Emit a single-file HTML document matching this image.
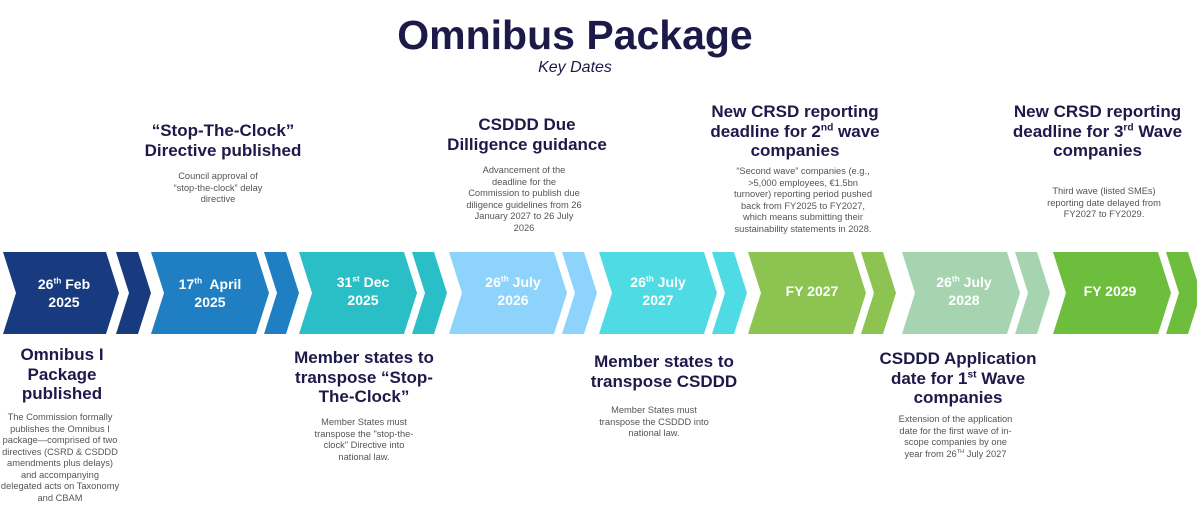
<!DOCTYPE html>
<html><head><meta charset="utf-8"><style>
body{margin:0;width:1197px;height:505px;background:#fff;position:relative;overflow:hidden;font-family:"Liberation Sans",sans-serif}
.a{position:absolute;text-align:center}
.h{font-weight:bold;color:#1d1a4a;font-size:17px;line-height:19.5px}
.b{color:#555;font-size:9.3px;line-height:11.5px}
sup{font-size:60%;line-height:0}
.d{position:absolute;color:#fff;font-weight:bold;font-size:14px;line-height:18px;text-align:center;width:110px}
</style></head><body>
<div class="a" style="left:300px;width:550px;top:10px;font-size:41px;font-weight:bold;color:#1d1a4a;line-height:50px">Omnibus Package</div>
<div class="a" style="left:450px;width:250px;top:59px;font-size:16px;font-style:italic;color:#1d1a4a">Key Dates</div>

<svg style="position:absolute;left:0;top:0" width="1197" height="505">
<polygon points="3,252 106,252 119,293 106,334 3,334 16,293" fill="#173b7e"/><polygon points="116,252 138,252 151,293 138,334 116,334 129,293" fill="#173b7e"/>
<polygon points="151,252 256,252 269,293 256,334 151,334 164,293" fill="#1f7fc2"/><polygon points="264,252 286,252 299,293 286,334 264,334 277,293" fill="#1f7fc2"/>
<polygon points="299,252 404,252 417,293 404,334 299,334 312,293" fill="#2abfc6"/><polygon points="412,252 434,252 447,293 434,334 412,334 425,293" fill="#2abfc6"/>
<polygon points="449,252 554,252 567,293 554,334 449,334 462,293" fill="#8ed3fb"/><polygon points="562,252 584,252 597,293 584,334 562,334 575,293" fill="#8ed3fb"/>
<polygon points="599,252 704,252 717,293 704,334 599,334 612,293" fill="#4fdbe3"/><polygon points="712,252 734,252 747,293 734,334 712,334 725,293" fill="#4fdbe3"/>
<polygon points="748,252 853,252 866,293 853,334 748,334 761,293" fill="#8dc451"/><polygon points="861,252 883,252 896,293 883,334 861,334 874,293" fill="#8dc451"/>
<polygon points="902,252 1007,252 1020,293 1007,334 902,334 915,293" fill="#a6d4b1"/><polygon points="1015,252 1037,252 1050,293 1037,334 1015,334 1028,293" fill="#a6d4b1"/>
<polygon points="1053,252 1158,252 1171,293 1158,334 1053,334 1066,293" fill="#6dbe3c"/><polygon points="1166,252 1188,252 1201,293 1188,334 1166,334 1179,293" fill="#6dbe3c"/>
</svg>

<div class="d" style="left:9px;top:275px">26<sup>th</sup> Feb<br>2025</div>
<div class="d" style="left:155px;top:275px">17<sup>th</sup>&nbsp; April<br>2025</div>
<div class="d" style="left:308px;top:273px">31<sup>st</sup> Dec<br>2025</div>
<div class="d" style="left:458px;top:273px">26<sup>th</sup> July<br>2026</div>
<div class="d" style="left:603px;top:273px">26<sup>th</sup> July<br>2027</div>
<div class="d" style="left:757px;top:282px">FY 2027</div>
<div class="d" style="left:909px;top:273px">26<sup>th</sup> July<br>2028</div>
<div class="d" style="left:1055px;top:282px">FY 2029</div>

<div class="a h" style="left:123px;width:200px;top:121px">“Stop-The-Clock”<br>Directive published</div>
<div class="a b" style="left:163px;width:110px;top:171px">Council approval of<br>“stop-the-clock” delay<br>directive</div>

<div class="a h" style="left:437px;width:180px;top:115px">CSDDD Due<br>Dilligence guidance</div>
<div class="a b" style="left:459px;width:130px;top:165px">Advancement of the<br>deadline for the<br>Commission to publish due<br>diligence guidelines from 26<br>January 2027 to 26 July<br>2026</div>

<div class="a h" style="left:690px;width:210px;top:102px">New CRSD reporting deadline for 2<sup>nd</sup> wave companies</div>
<div class="a b" style="left:718px;width:170px;top:166px">“Second wave” companies (e.g.,<br>&gt;5,000 employees, €1.5bn<br>turnover) reporting period pushed<br>back from FY2025 to FY2027,<br>which means submitting their<br>sustainability statements in 2028.</div>

<div class="a h" style="left:1000px;width:195px;top:102px">New CRSD reporting deadline for 3<sup>rd</sup> Wave companies</div>
<div class="a b" style="left:1039px;width:130px;top:186px">Third wave (listed SMEs)<br>reporting date delayed from<br>FY2027 to FY2029.</div>

<div class="a h" style="left:7px;width:110px;top:345px">Omnibus I Package published</div>
<div class="a b" style="left:-5px;width:130px;top:412px">The Commission formally<br>publishes the Omnibus I<br>package—comprised of two<br>directives (CSRD &amp; CSDDD<br>amendments plus delays)<br>and accompanying<br>delegated acts on Taxonomy<br>and CBAM</div>

<div class="a h" style="left:284px;width:160px;top:348px">Member states to transpose “Stop-The-Clock”</div>
<div class="a b" style="left:304px;width:120px;top:417px">Member States must<br>transpose the "stop-the-<br>clock" Directive into<br>national law.</div>

<div class="a h" style="left:574px;width:180px;top:352px">Member states to transpose CSDDD</div>
<div class="a b" style="left:589px;width:130px;top:405px">Member States must<br>transpose the CSDDD into<br>national law.</div>

<div class="a h" style="left:868px;width:180px;top:349px">CSDDD Application date for 1<sup>st</sup> Wave companies</div>
<div class="a b" style="left:888px;width:135px;top:414px">Extension of the application<br>date for the first wave of in-<br>scope companies by one<br>year from 26<sup>TH</sup> July 2027</div>
</body></html>
